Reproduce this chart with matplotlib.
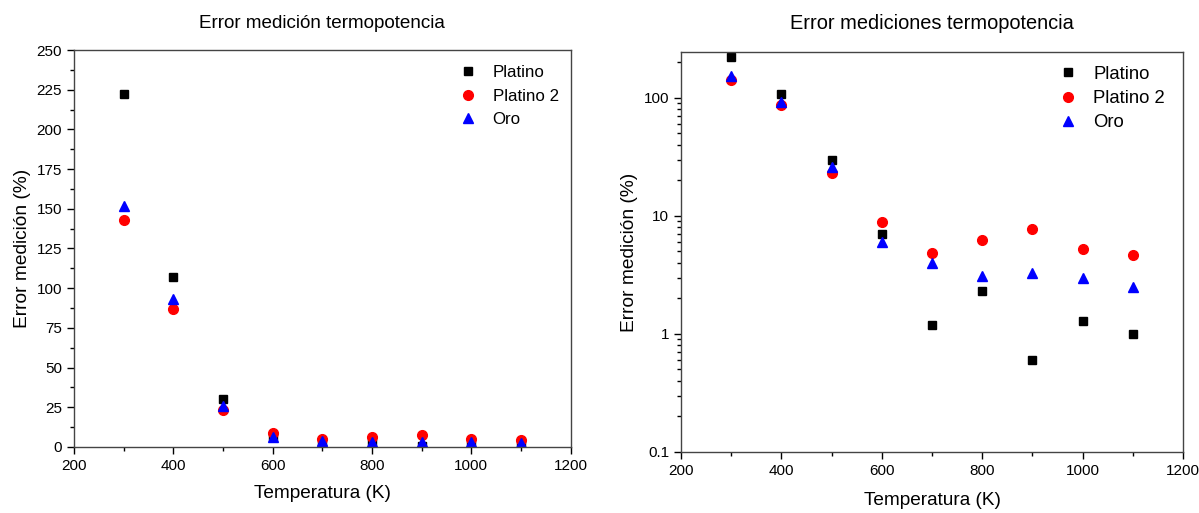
import matplotlib
matplotlib.use("Agg")
import matplotlib.pyplot as plt
from matplotlib.ticker import MultipleLocator, LogLocator, NullFormatter, FixedLocator, FixedFormatter

plt.rcParams['font.family'] = ['Liberation Sans', 'DejaVu Sans']

temps = [300, 400, 500, 600, 700, 800, 900, 1000, 1100]
platino = [222, 107, 30, 7.0, 1.2, 2.3, 0.6, 1.3, 1.0]
platino2 = [143, 87, 23, 8.8, 4.9, 6.2, 7.8, 5.2, 4.7]
oro = [152, 93, 26, 6.0, 4.0, 3.1, 3.3, 3.0, 2.5]

series = [
    ("Platino", platino, 's', 'black', 6),
    ("Platino 2", platino2, 'o', 'red', 7),
    ("Oro", oro, '^', 'blue', 7),
]

fig = plt.figure(figsize=(11.99, 5.13), dpi=100)
ax1 = fig.add_axes([0.0617, 0.1287, 0.4143, 0.7738])
ax2 = fig.add_axes([0.568, 0.119, 0.4187, 0.7796])

for ax in (ax1, ax2):
    for name, vals, m, c, ms in series:
        ax.plot(temps, vals, linestyle='none', marker=m, color=c, markersize=ms, label=name)
    ax.set_xlim(200, 1200)
    ax.xaxis.set_major_locator(MultipleLocator(200))
    ax.xaxis.set_minor_locator(MultipleLocator(100))
    ax.tick_params(which='both', direction='out', top=False, right=False, labelsize=11)
    ax.tick_params(which='major', length=5, width=1)
    ax.tick_params(which='minor', length=3, width=1)
    for s in ax.spines.values():
        s.set_color('#444444')
        s.set_linewidth(1.0)
    ax.set_ylabel("Error medición (%)", fontsize=13.8)

ax1.set_xlabel("Temperatura (K)", fontsize=13.7, labelpad=9)
ax2.set_xlabel("Temperatura (K)", fontsize=13.7, labelpad=10)

ax1.legend(loc='upper right', bbox_to_anchor=(0.976, 0.962), frameon=False, fontsize=12.2,
           borderaxespad=0, borderpad=0, handlelength=1.0, handletextpad=0.98, labelspacing=0.5)
ax2.legend(loc='upper right', bbox_to_anchor=(0.964, 0.966), frameon=False, fontsize=13.3,
           borderaxespad=0, borderpad=0, handlelength=1.0, handletextpad=0.85, labelspacing=0.4)

ax1.set_ylim(0, 250)
ax1.yaxis.set_major_locator(MultipleLocator(25))
ax1.yaxis.set_minor_locator(MultipleLocator(12.5))
ax1.set_title("Error medición termopotencia", fontsize=13.6, pad=16)

ax2.set_yscale('log')
ax2.set_ylim(0.1, 245)
ax2.yaxis.set_major_locator(FixedLocator([0.1, 1, 10, 100]))
ax2.yaxis.set_major_formatter(FixedFormatter(["0.1", "1", "10", "100"]))
ax2.yaxis.set_minor_locator(LogLocator(base=10, subs=range(2, 10)))
ax2.yaxis.set_minor_formatter(NullFormatter())
ax2.set_title("Error mediciones termopotencia", fontsize=14.4, pad=16.5)

fig.savefig("out.png", dpi=100)
